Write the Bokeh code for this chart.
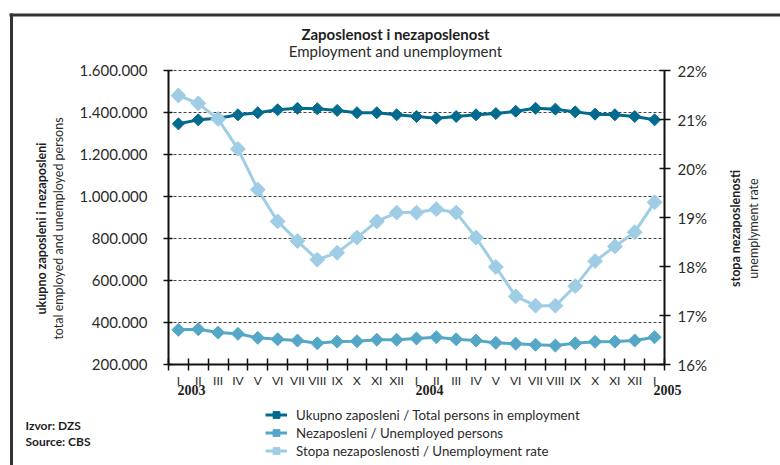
import math
from bokeh.plotting import figure
from bokeh.models import (Range1d, LinearAxis, FixedTicker, Legend, LegendItem,
                          BoxAnnotation)
from bokeh.core.properties import value
from bokeh.embed import file_html
from bokeh.resources import INLINE

# ---------------- data ----------------
months = ["I", "II", "III", "IV", "V", "VI", "VII", "VIII", "IX", "X", "XI", "XII",
          "I", "II", "III", "IV", "V", "VI", "VII", "VIII", "IX", "X", "XI", "XII", "I"]
years = ["2003", "2004", "2005"]
year_index = [0, 12, 24]

employed = [1346000, 1365000, 1373000, 1389000, 1399000, 1413000, 1420000, 1418000,
            1410000, 1399000, 1399000, 1389000, 1381000, 1373000, 1381000, 1389000,
            1395000, 1406000, 1420000, 1416000, 1403000, 1392000, 1389000, 1381000,
            1365000]
unemployed = [365000, 368000, 352000, 346000, 327000, 320000, 314000, 301000,
              309000, 311000, 318000, 318000, 324000, 330000, 320000, 314000,
              303000, 299000, 294000, 290000, 301000, 308000, 309000, 314000,
              330000]
rate = [21.49, 21.33, 21.01, 20.40, 19.57, 18.92, 18.52, 18.14, 18.28, 18.59,
        18.92, 19.10, 19.10, 19.17, 19.10, 18.59, 17.99, 17.39, 17.20, 17.20,
        17.60, 18.11, 18.41, 18.70, 19.31]

left_ticks = [200000, 400000, 600000, 800000, 1000000, 1200000, 1400000, 1600000]
right_ticks = [16, 17, 18, 19, 20, 21, 22]

title_text = "Zaposlenost i nezaposlenost"
subtitle_text = "Employment and unemployment"
left_title = ["ukupno zaposleni i nezaposleni", "total employed and unemployed persons"]
right_title = ["stopa nezaposlenosti", "unemplyment rate"]
source_text = ["Izvor: DZS", "Source: CBS"]
series_names = ["Ukupno zaposleni / Total persons in employment",
                "Nezaposleni / Unemployed persons",
                "Stopa nezaposlenosti / Unemployment rate"]

# ---------------- geometry (canvas = whole window, frame = whole canvas) ----------------
W, H = 780, 465
PL, PR, PT, PB = 168, 664, 70, 364          # plot box in pixels
XMIN, XMAX = -0.5, len(months) - 0.5
YMIN, YMAX = 200000, 1600000
RMIN, RMAX = 16, 22
UX = (PR - PL) / (XMAX - XMIN)               # px per x unit
UY = (YMAX - YMIN) / (PB - PT)               # y units per px
UR = (RMAX - RMIN) / (PB - PT)


def dx(px):
    return XMIN + (px - PL) / UX


def dy(py):
    return YMAX - (py - PT) * UY


p = figure(width=W, height=H,
           x_range=Range1d(dx(0), dx(W)), y_range=Range1d(dy(H), dy(0)),
           output_backend="svg", toolbar_location=None,
           min_border=0, min_border_left=0, min_border_right=0,
           min_border_top=0, min_border_bottom=0)
p.outline_line_color = None
p.background_fill_color = "white"
p.border_fill_color = "white"
p.extra_y_ranges = {"rate": Range1d(RMIN - (H - PB) * UR, RMAX + PT * UR)}

FONT = "Lato"
TXT = "#2b2b2b"
DARK = "#1e1e1e"
EPS = 1e-6

# grid: dashed lines limited to the plot box
p.xgrid.visible = False
p.ygrid.visible = False
p.segment(x0=[XMIN] * len(left_ticks), x1=[XMAX] * len(left_ticks),
          y0=left_ticks, y1=left_ticks, line_color="#444444", line_width=1,
          line_dash="3 2")


def style_axis(ax):
    ax.axis_line_width = 2
    ax.axis_line_color = "#111111"
    ax.major_tick_line_color = "#111111"
    ax.major_tick_line_width = 1.5
    ax.major_label_text_font = FONT
    ax.major_label_text_color = TXT


# x axis (months)
xa = p.xaxis[0]
style_axis(xa)
xa.fixed_location = YMIN
xa.bounds = (XMIN - EPS, XMAX + EPS)
xa.ticker = FixedTicker(ticks=list(range(len(months))),
                        minor_ticks=[i - 0.5 for i in range(len(months) + 1)])
xa.major_label_overrides = {i: m for i, m in enumerate(months)}
xa.major_tick_line_color = None
xa.major_tick_out = 6
xa.major_tick_in = 0
xa.major_label_standoff = 2
xa.minor_tick_line_color = "#111111"
xa.minor_tick_line_width = 1.5
xa.minor_tick_in = 6
xa.minor_tick_out = 6
xa.major_label_text_font_size = "12px"

# left axis
ya = p.yaxis[0]
style_axis(ya)
ya.fixed_location = XMIN
ya.bounds = (YMIN - 1, YMAX + 1)
ya.ticker = FixedTicker(ticks=left_ticks)
ya.major_label_overrides = {t: f"{t:,}".replace(",", ".") for t in left_ticks}
ya.major_tick_out = 5
ya.major_tick_in = 4
ya.minor_tick_line_color = None
ya.major_label_standoff = 16
ya.major_label_text_font_size = "15px"

# right axis
ra = LinearAxis(y_range_name="rate", ticker=FixedTicker(ticks=right_ticks),
                major_label_overrides={t: f"{t}%" for t in right_ticks})
style_axis(ra)
ra.fixed_location = XMAX
ra.bounds = (RMIN - EPS, RMAX + EPS)
ra.major_tick_out = 6
ra.major_tick_in = 5
ra.minor_tick_line_color = None
ra.major_label_standoff = 7
ra.major_label_text_font_size = "15px"
p.add_layout(ra, "right")

# series
x = list(range(len(months)))
c_emp, c_une, c_rate = "#006a8f", "#55a7c8", "#9ecde5"
l1 = p.line(x, employed, line_color=c_emp, line_width=3)
s1 = p.scatter(x, employed, marker="square", angle=math.pi / 4, size=8.5,
               fill_color=c_emp, line_color=c_emp)
l2 = p.line(x, unemployed, line_color=c_une, line_width=3)
s2 = p.scatter(x, unemployed, marker="square", angle=math.pi / 4, size=9.2,
               fill_color=c_une, line_color=c_une)
l3 = p.line(x, rate, line_color=c_rate, line_width=3, y_range_name="rate")
s3 = p.scatter(x, rate, marker="square", angle=math.pi / 4, size=10.5,
               fill_color=c_rate, line_color=c_rate, y_range_name="rate")

legend = Legend(items=[LegendItem(label=series_names[0], renderers=[l1, s1]),
                       LegendItem(label=series_names[1], renderers=[l2, s2]),
                       LegendItem(label=series_names[2], renderers=[l3, s3])],
                location=(265, H - 459), orientation="vertical",
                border_line_color=None, background_fill_alpha=0,
                glyph_width=22, glyph_height=17, label_height=17, spacing=1,
                padding=0, margin=0, label_standoff=9,
                label_text_font=FONT, label_text_font_size="13.3px",
                label_text_color=TXT)
p.add_layout(legend)

# year labels under the month labels
p.text(x=year_index, y=[dy(384)] * len(years), text=years, x_offset=-1,
       text_align="left", text_baseline="top",
       text_font=value("Liberation Serif"), text_font_style="bold",
       text_font_size="14px", text_color=DARK)

# title & subtitle
p.text(x=[dx(395)], y=[dy(33)], text=[title_text], text_align="center",
       text_baseline="middle", text_font=value(FONT), text_font_style="bold",
       text_font_size="15px", text_color=DARK)
p.text(x=[dx(395)], y=[dy(50)], text=[subtitle_text], text_align="center",
       text_baseline="middle", text_font=value(FONT), text_font_size="15px",
       text_color=TXT)

# vertical axis titles
p.text(x=[dx(41)], y=[dy(228)], text=[left_title[0]], angle=math.pi / 2,
       text_align="center", text_baseline="middle", text_font=value(FONT),
       text_font_style="bold", text_font_size="12.5px", text_color=DARK)
p.text(x=[dx(58)], y=[dy(228)], text=[left_title[1]], angle=math.pi / 2,
       text_align="center", text_baseline="middle", text_font=value(FONT),
       text_font_size="12.5px", text_color=TXT)
p.text(x=[dx(735)], y=[dy(228)], text=[right_title[0]], angle=math.pi / 2,
       text_align="center", text_baseline="middle", text_font=value(FONT),
       text_font_style="bold", text_font_size="12.5px", text_color=DARK)
p.text(x=[dx(753)], y=[dy(228)], text=[right_title[1]], angle=math.pi / 2,
       text_align="center", text_baseline="middle", text_font=value(FONT),
       text_font_size="12.5px", text_color=TXT)

# source
p.text(x=[dx(25), dx(25)], y=[dy(425), dy(441)], text=source_text,
       text_align="left", text_baseline="middle", text_font=value(FONT),
       text_font_style="bold", text_font_size="12px", text_color=DARK)

# frame lines of the panel
p.add_layout(BoxAnnotation(left=dx(9), right=dx(W + 5), top=dy(13), bottom=dy(16),
                           fill_color="#333333", fill_alpha=1, line_color=None))
p.add_layout(BoxAnnotation(left=dx(9.5), right=dx(12.5), top=dy(13), bottom=dy(H + 5),
                           fill_color="#333333", fill_alpha=1, line_color=None))

open("out.html", "w").write(file_html(p, INLINE))
